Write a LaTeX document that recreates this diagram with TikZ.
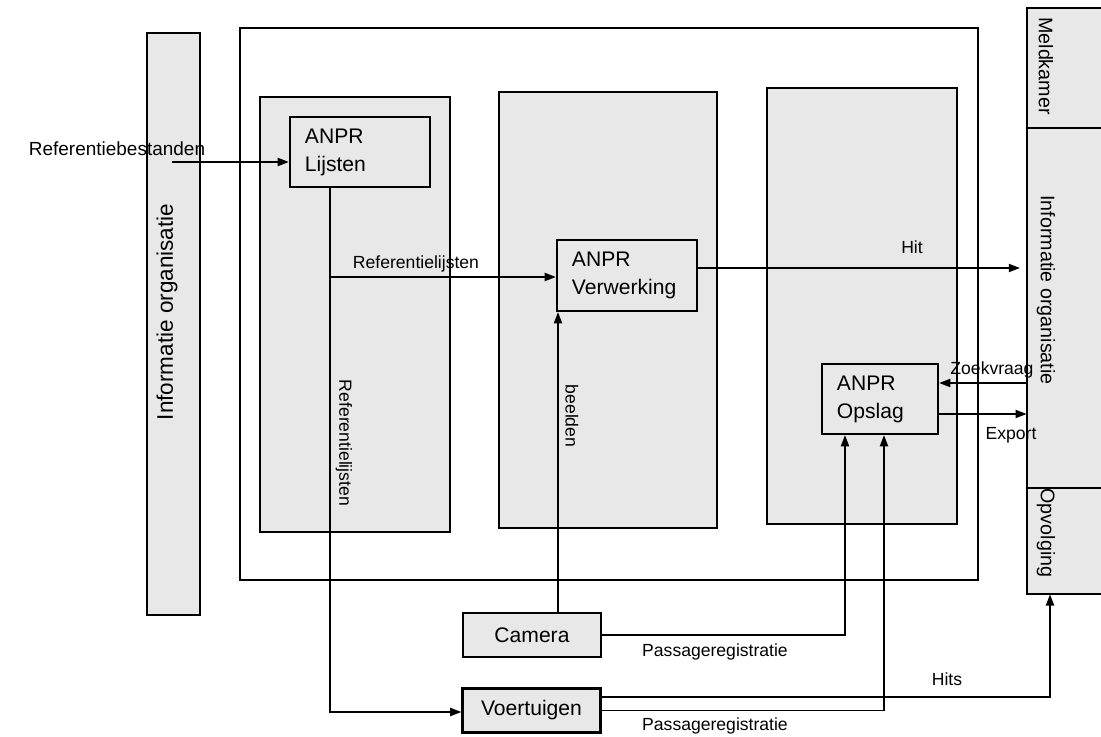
\documentclass[tikz,border=0pt]{standalone}
\usepackage{fontspec}
\setmainfont{Liberation Sans}
\usetikzlibrary{arrows.meta}

\begin{document}
\begin{tikzpicture}[x=0.025cm,y=-0.025cm,
  lijn/.style={line width=1.3pt},
  pijl/.style={lijn,-{Triangle[length=0.28cm,width=0.2cm]}},
  kader/.style={draw,line width=1.5pt,fill=black!9},
  anpr/.style={kader,align=left,inner xsep=0.375cm,inner ysep=0pt,text width=2.75cm,minimum height=1.75cm,font=\fontsize{15}{20}\selectfont},
  bron/.style={kader,minimum height=1.1cm,minimum width=3.45cm,font=\fontsize{15}{18}\selectfont},
  strook/.style={fill=black!9,inner sep=0pt,minimum width=1.85cm},
  etiket/.style={font=\fontsize{12.5}{14}\selectfont,inner sep=1pt},
  zijtekst/.style={font=\fontsize{14}{16}\selectfont,rotate=-90,inner sep=0pt}]
\useasboundingbox (0,0) rectangle (1101,737);
\draw[lijn] (240,28) rectangle (978,580);
\draw[kader] (147,33) rectangle (200,615);
\draw[kader] (260,97) rectangle (450,532);
\draw[kader] (499,92) rectangle (717,528);
\draw[kader] (767,88) rectangle (957,524);
\node[strook,minimum height=3cm] (meldkamer) at (1064,68) {};
\node[strook,minimum height=9cm] (infoR) at (1064,308) {};
\node[strook,minimum height=2.65cm] (opvolging) at (1064,541) {};
\draw[line width=1.5pt] (meldkamer.north east) -- (meldkamer.north west) -- (opvolging.south west) -- (opvolging.south east);
\draw[line width=1.5pt] (meldkamer.south west) -- (meldkamer.south east);
\draw[line width=1.5pt] (opvolging.north west) -- (opvolging.north east);
\node[zijtekst] (tmeld) at (1046,66) {Meldkamer};
\node[zijtekst] (tinfoR) at (1046,290) {Informatie organisatie};
\node[zijtekst] (topvolg) at (1046,533) {Opvolging};
\node[font=\fontsize{16}{18}\selectfont,rotate=90,inner sep=0pt] (tinfoL) at (167,312) {Informatie organisatie};
\node[anpr] (lijsten) at (360,152) {ANPR\\Lijsten};
\node[anpr,minimum height=1.775cm] (verwerking) at (627,275.5) {ANPR\\Verwerking};
\node[anpr,text width=2.15cm] (opslag) at (880,399) {ANPR\\Opslag};
\node[bron] (camera) at (532,635) {Camera};
\node[bron] (voertuigen) at (531.5,710.5) {Voertuigen};
\coordinate (bestand) at (172,162);
\coordinate (afsplits) at (330,712);
\coordinate (tak) at (330,277);
\coordinate (beeld) at (558,0);
\coordinate (hit) at (1020,268);
\coordinate (zoek) at (0,383);
\coordinate (export) at (0,414);
\coordinate (pas1) at (845,0);
\coordinate (pas2) at (884,0);
\coordinate (hits) at (1050,697);
\draw[pijl] (bestand) -- (bestand -| lijsten.west);
\draw[pijl] (afsplits |- lijsten.south) -- (afsplits) -- (afsplits -| voertuigen.west);
\draw[pijl] (tak) -- (tak -| verwerking.west);
\draw[pijl] (beeld |- camera.north) -- (beeld |- verwerking.south);
\draw[pijl] (hit -| verwerking.east) -- (hit);
\draw[pijl] (zoek -| infoR.west) -- (zoek -| opslag.east);
\draw[pijl] (export -| opslag.east) -- (export -| infoR.west);
\draw[pijl] (camera.east) -| (pas1 |- opslag.south);
\draw[pijl] (voertuigen.east) -| (pas2 |- opslag.south);
\draw[pijl] (hits -| voertuigen.east) -- (hits) -- (hits |- opvolging.south);
\node[etiket,font=\fontsize{13.5}{15}\selectfont] (lbestand) at (117,149) {Referentiebestanden};
\node[etiket] (ltak) at (416,264) {Referentielijsten};
\node[etiket,rotate=-90] (lafsplits) at (344,443) {Referentielijsten};
\node[etiket,rotate=-90] (lbeeld) at (572,416) {beelden};
\node[etiket] (lhit) at (912,247) {Hit};
\node[etiket] (lzoek) at (992,370) {Zoekvraag};
\node[etiket] (lexport) at (1011,435) {Export};
\node[etiket] (lpas1) at (715,652) {Passageregistratie};
\node[etiket] (lpas2) at (715,726) {Passageregistratie};
\node[etiket] (lhits) at (947,679) {Hits};
\end{tikzpicture}
\end{document}
